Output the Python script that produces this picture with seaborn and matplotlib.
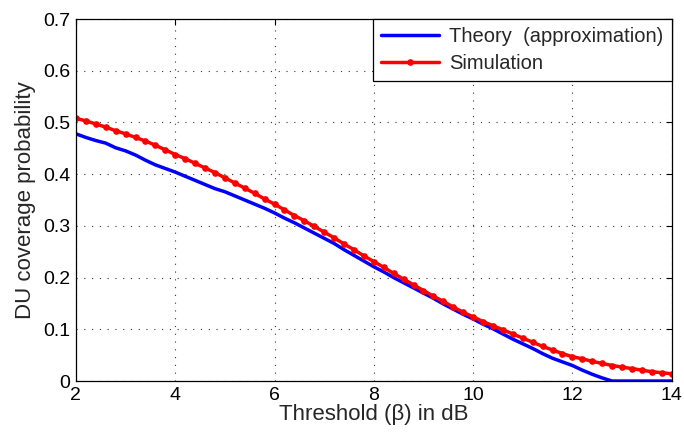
import numpy as np
import pandas as pd
import matplotlib
matplotlib.use("Agg")
import matplotlib.pyplot as plt
import seaborn as sns

# DATA
threshold_db = np.linspace(2, 14, 61)

simulation = [
    0.508, 0.503, 0.497, 0.491, 0.484, 0.478, 0.471, 0.464, 0.456, 0.447,
    0.438, 0.430, 0.421, 0.412, 0.403, 0.393, 0.383, 0.373, 0.363, 0.352,
    0.342, 0.331, 0.320, 0.310, 0.299, 0.288, 0.277, 0.265, 0.254, 0.242,
    0.231, 0.220, 0.208, 0.197, 0.186, 0.175, 0.164, 0.154, 0.143, 0.133,
    0.124, 0.115, 0.107, 0.099, 0.091, 0.083, 0.075, 0.067, 0.060, 0.053,
    0.047, 0.043, 0.038, 0.034, 0.030, 0.027, 0.024, 0.021, 0.018, 0.016,
    0.014,
]

theory = [
    0.478, 0.471, 0.465, 0.460, 0.451, 0.445, 0.437, 0.427, 0.418, 0.411,
    0.404, 0.396, 0.388, 0.380, 0.372, 0.366, 0.358, 0.350, 0.342, 0.334,
    0.325, 0.315, 0.306, 0.296, 0.286, 0.276, 0.266, 0.254, 0.243, 0.232,
    0.221, 0.211, 0.200, 0.190, 0.180, 0.170, 0.160, 0.149, 0.139, 0.129,
    0.120, 0.110, 0.101, 0.091, 0.081, 0.072, 0.063, 0.053, 0.044, 0.037,
    0.030, 0.021, 0.013, 0.006, 0.000, 0.000, 0.000, 0.000, 0.000, 0.000,
    0.000,
]

x_ticks = [2, 4, 6, 8, 10, 12, 14]
y_ticks = [0, 0.1, 0.2, 0.3, 0.4, 0.5, 0.6, 0.7]
y_tick_labels = ["0", "0.1", "0.2", "0.3", "0.4", "0.5", "0.6", "0.7"]

df = pd.DataFrame({"threshold": threshold_db, "theory": theory, "simulation": simulation})

sns.set_theme(style="white")
plt.rcParams['font.family'] = ['Liberation Sans', 'DejaVu Sans']

fig = plt.figure(figsize=(6.84, 4.32), dpi=100)
ax = fig.add_axes([0.111, 0.118, 0.871, 0.838])

sns.lineplot(data=df, x="threshold", y="theory", ax=ax, color="#0000FF",
             linewidth=2.5, label="Theory  (approximation)")
sns.lineplot(data=df, x="threshold", y="simulation", ax=ax, color="#FF0000",
             linewidth=2.5, marker="o", markersize=4.8, markeredgewidth=0,
             label="Simulation")

ax.set_xlim(2, 14)
ax.set_ylim(0, 0.7)
ax.set_xticks(x_ticks)
ax.set_yticks(y_ticks)
ax.set_yticklabels(y_tick_labels)
ax.tick_params(direction="in", length=4, width=0.8, top=True, right=True,
               labelsize=14, colors="black", pad=4)
ax.grid(True, linestyle=(0, (1, 6)), color="#333333", linewidth=0.8)
for s in ax.spines.values():
    s.set_color("black")
    s.set_linewidth(0.9)

ax.set_xlabel("Threshold (\u03b2) in dB", fontsize=16, labelpad=0)
ax.set_ylabel("DU coverage probability", fontsize=16, labelpad=5)

leg = ax.legend(loc="upper right", fontsize=14.5, frameon=True, fancybox=False,
                borderaxespad=0, handlelength=2.9, labelspacing=0.4,
                borderpad=0.4, handletextpad=0.5)
leg.get_frame().set_edgecolor("black")
leg.get_frame().set_linewidth(0.9)
leg.get_frame().set_alpha(1)

fig.savefig("out.png", dpi=100)
